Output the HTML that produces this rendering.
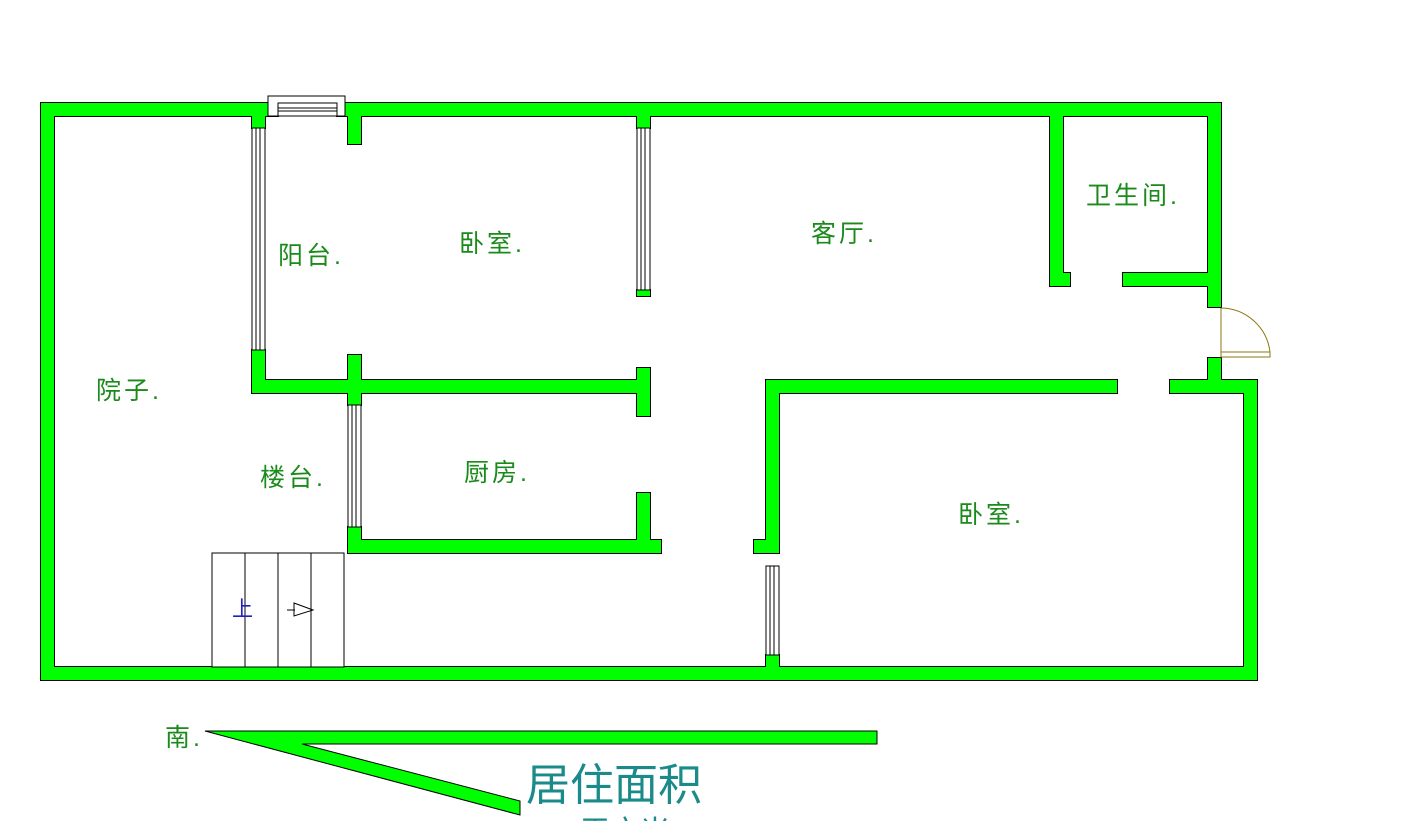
<!DOCTYPE html>
<html><head><meta charset="utf-8"><style>
html,body{margin:0;padding:0;background:#fff;width:1408px;height:821px;overflow:hidden}
svg text{font-family:"Liberation Sans","Noto Sans CJK SC",sans-serif}
</style></head><body>
<svg width="1408" height="821" viewBox="0 0 1408 821" xmlns="http://www.w3.org/2000/svg">
<defs>
<g id="walls">
<rect x="41" y="103" width="13" height="577"/>
<rect x="41" y="103" width="237" height="13"/>
<rect x="337" y="103" width="884" height="13"/>
<rect x="41" y="667" width="1216" height="13"/>
<rect x="1208" y="103" width="13" height="204"/>
<rect x="1208" y="358" width="13" height="35"/>
<rect x="1244" y="380" width="13" height="300"/>
<rect x="1050" y="116" width="13" height="170"/>
<rect x="1050" y="273" width="20" height="13"/>
<rect x="1123" y="273" width="98" height="13"/>
<rect x="766" y="380" width="351" height="13"/>
<rect x="1170" y="380" width="87" height="13"/>
<rect x="766" y="380" width="13" height="173"/>
<rect x="754" y="540" width="25" height="13"/>
<rect x="766" y="655" width="13" height="14"/>
<rect x="252" y="103" width="13" height="25"/>
<rect x="252" y="350" width="13" height="43"/>
<rect x="252" y="380" width="398" height="13"/>
<rect x="637" y="368" width="13" height="48"/>
<rect x="348" y="103" width="13" height="41"/>
<rect x="348" y="355" width="13" height="50"/>
<rect x="637" y="103" width="13" height="25"/>
<rect x="637" y="290" width="13" height="6"/>
<rect x="348" y="527" width="13" height="26"/>
<rect x="348" y="540" width="313" height="13"/>
<rect x="637" y="493" width="13" height="60"/>
</g>
</defs>
<use href="#walls" fill="#00ff00" stroke="#000" stroke-width="2"/>
<use href="#walls" fill="#00ff00"/>
<polygon points="205,731 877,731 877,744 302,744 520,801 520,815" fill="#00ff00" stroke="#000" stroke-width="1"/>
<g fill="#fff" stroke="#000" stroke-width="1">
<rect x="268" y="96" width="77" height="20"/>
<rect x="278" y="103" width="59" height="13"/>
<line x1="278" y1="108" x2="337" y2="108"/>
<line x1="278" y1="111" x2="337" y2="111"/>
<rect x="252" y="128" width="13" height="222"/>
<line x1="256" y1="128" x2="256" y2="350"/><line x1="260" y1="128" x2="260" y2="350"/>
<rect x="637" y="128" width="13" height="162"/>
<line x1="641" y1="128" x2="641" y2="290"/><line x1="645" y1="128" x2="645" y2="290"/>
<rect x="348" y="405" width="13" height="122"/>
<line x1="352" y1="405" x2="352" y2="527"/><line x1="356" y1="405" x2="356" y2="527"/>
<rect x="766" y="566" width="13" height="89"/>
<line x1="770" y1="566" x2="770" y2="655"/><line x1="774" y1="566" x2="774" y2="655"/>
<rect x="212" y="553" width="132" height="114"/>
<line x1="245" y1="553" x2="245" y2="667"/>
<line x1="278" y1="553" x2="278" y2="667"/>
<line x1="311" y1="553" x2="311" y2="667"/>
</g>
<g fill="none" stroke="#8a7a10" stroke-width="1">
<path d="M1221,308 A50,50 0 0 1 1270,352"/>
<rect x="1221" y="352" width="49" height="5"/>
<line x1="1221" y1="308" x2="1221" y2="357"/>
</g>
<g stroke="#000" fill="none" stroke-width="1">
<line x1="287" y1="610" x2="295" y2="610"/>
<polygon points="294,603 313,610 294,616"/>
</g>
<text x="232" y="616" font-size="21" fill="#2020c0">上</text>
<g fill="#1a8a1a" font-size="25" letter-spacing="3">
<text x="96" y="399">院子.</text>
<text x="278" y="264">阳台.</text>
<text x="459" y="252">卧室.</text>
<text x="811" y="242">客厅.</text>
<text x="1086" y="204">卫生间.</text>
<text x="260" y="486">楼台.</text>
<text x="464" y="481">厨房.</text>
<text x="958" y="523">卧室.</text>
<text x="165" y="746">南.</text>
</g>
<text x="526" y="800" font-size="44" fill="#1a8a8a">居住面积</text>
<text x="580" y="842" font-size="30" fill="#1a8a8a">平方米</text>
</svg>
</body></html>
